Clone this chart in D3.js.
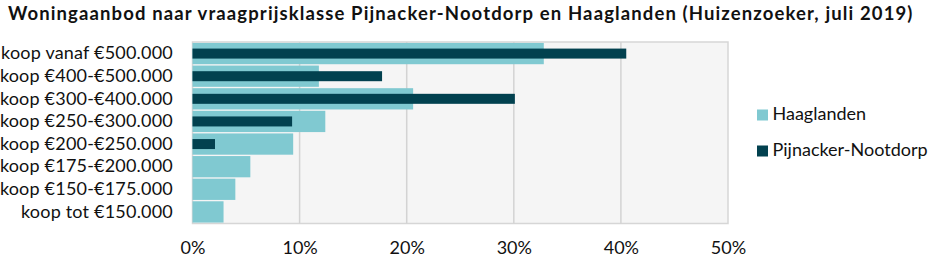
<!DOCTYPE html>
<html><head><meta charset="utf-8">
<script src="https://cdn.jsdelivr.net/npm/d3@7"></script>
<style>body{margin:0;background:#fff;} text{font-family:Lato,"Open Sans",sans-serif;}</style>
</head><body><svg id="c" width="929" height="260"></svg>
<script>
const title = "Woningaanbod naar vraagprijsklasse Pijnacker-Nootdorp en Haaglanden (Huizenzoeker, juli 2019)";
const categories = ["koop vanaf €500.000","koop €400-€500.000","koop €300-€400.000","koop €250-€300.000","koop €200-€250.000","koop €175-€200.000","koop €150-€175.000","koop tot €150.000"];
const haaglanden = [32.8, 11.8, 20.6, 12.4, 9.4, 5.4, 4.0, 2.9];
const pijnacker = [40.5, 17.7, 30.1, 9.3, 2.1, 0, 0, 0];
const ticks = [0, 10, 20, 30, 40, 50];
const seriesNames = ["Haaglanden", "Pijnacker-Nootdorp"];
const colors = ["#80c9d1", "#02414f"];

const svg = d3.select("#c");
const x = d3.scaleLinear().domain([0, 50]).range([192.5, 728]);
const y = d3.scaleBand().domain(categories).range([42.5, 223]).paddingInner(0.06).paddingOuter(0.02);

const t = svg.append("text").attr("x", 8).attr("y", 20).attr("font-weight", "bold").attr("font-size", 18.5)
  .attr("fill", "#111").text(title);
const tl = t.node().getComputedTextLength();
t.attr("letter-spacing", ((904 - tl) / (title.length - 1)).toFixed(2));

svg.append("rect").attr("x", x(0)).attr("y", 42).attr("width", x(50) - x(0)).attr("height", 181.5)
  .attr("fill", "#f5f5f5").attr("stroke", "#d6d6d6").attr("stroke-width", 1.5);

const xAxis = d3.axisBottom(x).tickValues(ticks).tickFormat(d => d + "%").tickSize(0);
svg.append("g").selectAll("line").data(ticks.slice(1, -1)).join("line")
  .attr("x1", d => x(d)).attr("x2", d => x(d)).attr("y1", 42).attr("y2", 223.5)
  .attr("stroke", "#d3d3d3").attr("stroke-width", 1.5);

const gx = svg.append("g").attr("transform", "translate(0,238)").call(xAxis);
gx.select(".domain").remove();
gx.selectAll("text").attr("font-size", 18).attr("fill", "#111").attr("font-family", "Lato,sans-serif");

const yAxis = d3.axisLeft(y).tickSize(0).tickPadding(0);
const gy = svg.append("g").attr("transform", "translate(173,0)").call(yAxis);
gy.select(".domain").remove();
gy.selectAll("text").attr("font-size", 18).attr("letter-spacing", 0.2).attr("fill", "#111")
  .attr("font-family", "Lato,sans-serif").attr("dy", "0.32em");

svg.append("g").selectAll("rect").data(categories).join("rect")
  .attr("x", x(0)).attr("y", d => y(d)).attr("width", (d, i) => x(haaglanden[i]) - x(0))
  .attr("height", y.bandwidth()).attr("fill", colors[0]);

const dh = 10;
svg.append("g").selectAll("rect").data(categories).join("rect")
  .attr("x", x(0)).attr("y", d => y(d) + y.bandwidth() / 2 - dh / 2).attr("width", (d, i) => x(pijnacker[i]) - x(0))
  .attr("height", dh).attr("fill", colors[1]);

const lg = svg.append("g");
seriesNames.forEach((n, i) => {
  lg.append("rect").attr("x", 757).attr("y", 109.5 + i * 36).attr("width", 11).attr("height", 11).attr("fill", colors[i]);
  lg.append("text").attr("x", 772.5).attr("y", 120 + i * 36).attr("font-size", 18).attr("fill", "#111").text(n);
});
</script></body></html>
